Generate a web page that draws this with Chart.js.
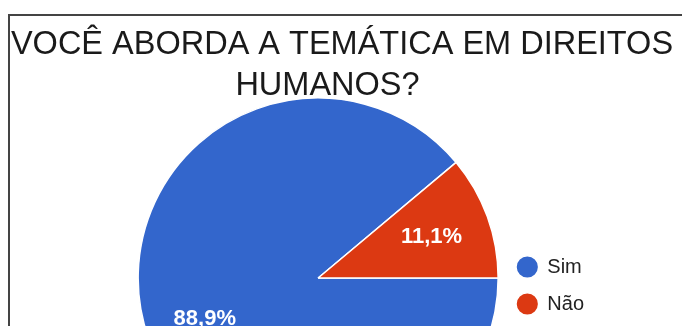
<!DOCTYPE html>
<html lang="pt">
<head>
    <meta charset="UTF-8">
    <title>Você aborda a temática em Direitos Humanos?</title>
    <script src="https://cdn.jsdelivr.net/npm/chart.js"></script>
    <style>
        body {
            margin: 0;
            background: #fff;
            width: 682px;
            height: 326px;
            overflow: hidden;
            position: relative;
            font-family: 'Liberation Sans', Arial, sans-serif;
        }

        canvas {
            position: absolute;
            left: 0;
            top: 0;
        }

        /* thin dark frame around the chart (only top/left visible) */
        .frame {
            position: absolute;
            left: 8px;
            top: 14px;
            width: 900px;
            height: 600px;
            border-left: 2px solid #444;
            border-top: 2px solid #444;
            pointer-events: none;
        }
    </style>
</head>
<body>

<canvas id="pieChart" width="682" height="451"></canvas>
<div class="frame"></div>

<script>
    // Data
    const titleLines = ['VOCÊ ABORDA A TEMÁTICA EM DIREITOS', 'HUMANOS?'];
    const categories = ['Sim', 'Não'];
    const values = [88.9, 11.1];
    const sliceColors = ['#3366cc', '#dc3912'];

    const FONT = '"Liberation Sans", Arial, sans-serif';

    // Title drawn by hand so that the long first line is not squeezed
    const titleBlock = {
        id: 'titleBlock',
        afterDraw(chart) {
            const ctx = chart.ctx;
            ctx.save();
            ctx.font = '32.5px ' + FONT;
            ctx.fillStyle = '#1a1a1a';
            ctx.textAlign = 'center';
            ctx.textBaseline = 'alphabetic';
            ctx.fillText(titleLines[0], 342, 54);
            ctx.fillText(titleLines[1], 327.5, 95);
            ctx.restore();
        }
    };

    // Percentage labels inside the slices
    const percentLabels = {
        id: 'percentLabels',
        afterDatasetsDraw(chart) {
            const ctx = chart.ctx;
            const meta = chart.getDatasetMeta(0);
            const total = values.reduce((a, b) => a + b, 0);
            ctx.save();
            ctx.fillStyle = '#fff';
            ctx.font = 'bold 22px ' + FONT;
            ctx.textAlign = 'center';
            ctx.textBaseline = 'middle';
            meta.data.forEach((arc, i) => {
                const p = arc.getProps(['x', 'y', 'startAngle', 'endAngle', 'outerRadius'], true);
                const mid = (p.startAngle + p.endAngle) / 2;
                const r = p.outerRadius * 0.67;
                const txt = (values[i] / total * 100).toFixed(1).replace('.', ',') + '%';
                ctx.fillText(txt, p.x + Math.cos(mid) * r, p.y + Math.sin(mid) * r);
            });
            ctx.restore();
        }
    };

    const ctx = document.getElementById('pieChart').getContext('2d');
    const myChart = new Chart(ctx, {
        type: 'pie',
        data: {
            labels: categories,
            datasets: [{
                data: values,
                backgroundColor: sliceColors,
                borderColor: '#fff',
                borderWidth: 1.5,
                radius: 180,
                clip: false
            }]
        },
        options: {
            responsive: false,
            animation: false,
            rotation: 90,
            layout: {
                padding: { top: 105, left: 136, right: 88, bottom: 0 }
            },
            plugins: {
                title: { display: false },
                tooltip: { enabled: false },
                legend: {
                    position: 'right',
                    title: {
                        display: true,
                        text: '',
                        font: { size: 1, lineHeight: 1 },
                        padding: { top: 0, bottom: 14 }
                    },
                    labels: {
                        usePointStyle: true,
                        pointStyle: 'circle',
                        boxWidth: 20,
                        boxHeight: 16,
                        padding: 17,
                        color: '#222',
                        font: { size: 20, family: FONT }
                    }
                }
            }
        },
        plugins: [percentLabels, titleBlock]
    });
</script>

</body>
</html>
